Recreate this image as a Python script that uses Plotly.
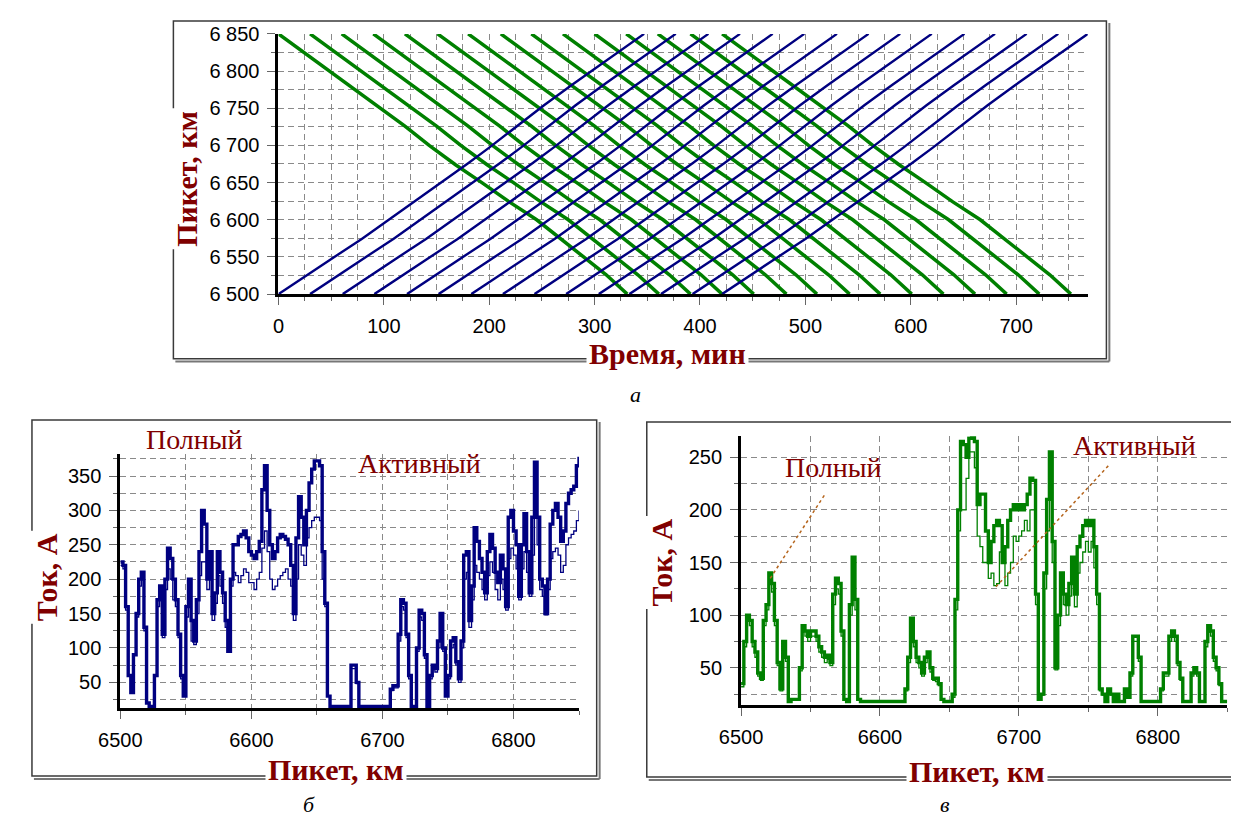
import plotly.graph_objects as go

# The page body has an 8px default margin, so the figure is drawn 8px smaller
# and every reference pixel position is shifted by -8.
OFF = 8
W, H = 1239 - OFF, 827 - OFF
def px(x): return (x - OFF) / W
def py(y): return 1 - (y - OFF) / H

# ---------------- chart "а": train schedule ----------------
green_start = [0, 30, 60, 90, 120, 151, 180, 211, 240, 270, 300, 330, 360, 391, 421]
green_prof_t = [0, 24, 48, 73, 97, 120, 143, 168, 193, 219, 245, 268, 290, 311, 331]
green_prof_km = [6850, 6825, 6801, 6774, 6750, 6726, 6700, 6674, 6650, 6624, 6600, 6574, 6550, 6526, 6500]
blue_start = [0, 30, 61, 91, 122, 152, 183, 213, 243, 273, 304, 333, 363, 393, 421]
blue_prof_t = [0, 27, 53, 79, 105, 133, 160, 180, 200, 226, 252, 278, 303, 326, 347]
blue_prof_km = [6500, 6526, 6550, 6574, 6600, 6628, 6655, 6676, 6697, 6726, 6754, 6781, 6806, 6829, 6850]
y_ticks_a = [6500, 6550, 6600, 6650, 6700, 6750, 6800, 6850]
y_labels_a = ["6 500", "6 550", "6 600", "6 650", "6 700", "6 750", "6 800", "6 850"]

# ---------------- chart "б": current, km 6500..6850 step 2 ----------------
km = list(range(6500, 6851, 2))
b_full = [
    225, 220, 160, 60, 35, 90, 150, 200, 210, 130,
    20, 15, 15, 60, 170, 190, 120, 200, 245, 230,
    200, 170, 120, 60, 30, 160, 200, 140, 110, 170,
    240, 300, 280, 200, 240, 150, 180, 240, 210, 180,
    140, 95, 200, 250, 250, 262, 265, 270, 260, 240,
    235, 230, 240, 255, 330, 365, 300, 250, 230, 240,
    260, 265, 262, 258, 250, 220, 150, 260, 320, 290,
    250, 300, 340, 360, 372, 372, 365, 240, 165, 30,
    15, 15, 15, 15, 15, 15, 15, 15, 75, 75,
    50, 15, 15, 15, 15, 15, 15, 15, 15, 15,
    15, 15, 15, 40, 45, 45, 120, 170, 165, 120,
    60, 15, 15, 100, 155, 150, 90, 15, 60, 75,
    70, 110, 150, 100, 30, 60, 110, 115, 80, 55,
    110, 235, 240, 140, 190, 275, 255, 230, 210, 180,
    240, 265, 245, 210, 195, 235, 215, 160, 290, 300,
    270, 250, 175, 250, 295, 240, 180, 290, 370, 290,
    200, 190, 150, 200, 280, 300, 310, 290, 255, 270,
    310, 325, 330, 335, 365, 378,
]
b_active = [
    220, 215, 155, 60, 35, 90, 145, 190, 200, 125,
    20, 15, 15, 60, 160, 180, 115, 185, 215, 200,
    170, 160, 115, 55, 30, 145, 180, 110, 105, 150,
    205, 225, 225, 185, 210, 140, 165, 205, 190, 165,
    130, 95, 190, 210, 205, 195, 205, 215, 210, 195,
    195, 185, 200, 210, 245, 270, 240, 200, 185, 190,
    200, 205, 210, 215, 200, 190, 140, 200, 250, 235,
    220, 260, 275, 285, 290, 290, 285, 200, 160, 30,
    15, 15, 15, 15, 15, 15, 15, 15, 70, 70,
    48, 15, 15, 15, 15, 15, 15, 15, 15, 15,
    15, 15, 15, 38, 42, 42, 110, 160, 155, 115,
    55, 15, 15, 95, 145, 140, 85, 15, 55, 70,
    65, 100, 140, 95, 30, 55, 100, 105, 75, 50,
    100, 200, 210, 130, 170, 220, 210, 200, 185, 170,
    205, 225, 210, 185, 170, 200, 185, 155, 230, 245,
    235, 215, 170, 215, 240, 210, 175, 235, 300, 250,
    185, 175, 148, 185, 230, 240, 245, 235, 210, 220,
    250, 260, 265, 270, 285, 300,
]

# ---------------- chart "в" ----------------
v_full = [
    35, 75, 100, 95, 75, 65, 45, 40, 95, 110,
    140, 130, 95, 55, 30, 75, 60, 18, 20, 20,
    20, 50, 90, 85, 80, 85, 85, 80, 70, 65,
    60, 62, 55, 120, 135, 130, 85, 20, 18, 110,
    155, 115, 20, 18, 18, 18, 18, 18, 18, 18,
    18, 18, 18, 18, 18, 18, 18, 18, 18, 30,
    60, 97, 75, 60, 55, 45, 60, 65, 50, 40,
    40, 35, 20, 18, 18, 18, 25, 115, 200, 265,
    262, 250, 268, 270, 265, 205, 215, 215, 180, 150,
    170, 185, 190, 185, 150, 165, 190, 200, 205, 200,
    205, 200, 205, 215, 230, 228, 120, 20, 25, 140,
    210, 255, 170, 50, 100, 140, 120, 110, 130, 155,
    120, 165, 175, 185, 190, 185, 190, 165, 120, 30,
    25, 18, 30, 25, 18, 25, 18, 18, 30, 22,
    45, 80, 80, 60, 18, 18, 18, 18, 18, 18,
    18, 30, 45, 45, 80, 85, 80, 55, 40, 18,
    18, 18, 45, 50, 45, 18, 18, 75, 90, 85,
    60, 50, 35, 18, 18, 18,
]
v_active = [
    32, 70, 95, 90, 70, 60, 42, 38, 90, 105,
    130, 122, 90, 52, 28, 70, 56, 18, 19, 19,
    19, 47, 85, 80, 75, 80, 80, 75, 65, 60,
    55, 58, 52, 110, 125, 120, 80, 19, 18, 100,
    140, 105, 19, 18, 18, 18, 18, 18, 18, 18,
    18, 18, 18, 18, 18, 18, 18, 18, 18, 28,
    55, 90, 70, 55, 50, 42, 55, 60, 46, 38,
    37, 33, 19, 18, 18, 18, 22, 105, 180, 200,
    200, 230, 255, 255, 240, 175, 165, 150, 150, 135,
    140, 128, 130, 160, 150, 128, 140, 150, 175, 170,
    175, 180, 190, 180, 200, 200, 110, 20, 24, 125,
    180, 215, 150, 48, 90, 128, 110, 100, 118, 140,
    108, 140, 150, 160, 170, 160, 170, 145, 110, 28,
    24, 18, 28, 24, 18, 24, 18, 18, 28, 21,
    42, 75, 75, 56, 18, 18, 18, 18, 18, 18,
    18, 28, 42, 42, 75, 80, 75, 52, 38, 18,
    18, 18, 42, 47, 42, 18, 18, 70, 84, 80,
    56, 47, 33, 18, 18, 18,
]
# pointer lines (data coords) for the labels on chart в
ptr_full = ([6521, 6561], [135, 216])
ptr_active = ([6683.5, 6764.5], [127, 242])

NAVY = "#000080"
GREEN = "#008000"
TXT = "#800000"
GRID = "#8a8a8a"
SANS = "Liberation Sans"
SERIF = "Liberation Serif"

fig = go.Figure()

for s in green_start:
    fig.add_trace(go.Scatter(x=[s + t for t in green_prof_t], y=green_prof_km, mode="lines",
                             line=dict(color=GREEN, width=3.5), xaxis="x", yaxis="y", hoverinfo="skip"))
for s in blue_start:
    fig.add_trace(go.Scatter(x=[s + t for t in blue_prof_t], y=blue_prof_km, mode="lines",
                             line=dict(color=NAVY, width=2.4), xaxis="x", yaxis="y", hoverinfo="skip"))

fig.add_trace(go.Scatter(x=km, y=b_full, mode="lines", line=dict(color=NAVY, width=3.4, shape="hv"),
                         xaxis="x2", yaxis="y2"))
fig.add_trace(go.Scatter(x=km, y=b_active, mode="lines", line=dict(color=NAVY, width=1.3, shape="hv"),
                         xaxis="x2", yaxis="y2"))
fig.add_trace(go.Scatter(x=km, y=v_full, mode="lines", line=dict(color=GREEN, width=3.4, shape="hv"),
                         xaxis="x3", yaxis="y3"))
fig.add_trace(go.Scatter(x=km, y=v_active, mode="lines", line=dict(color=GREEN, width=1.3, shape="hv"),
                         xaxis="x3", yaxis="y3"))
for xs, ys in (ptr_full, ptr_active):
    fig.add_trace(go.Scatter(x=xs, y=ys, mode="lines", line=dict(color="#B5651D", width=1.5, dash="dot"),
                             xaxis="x3", yaxis="y3"))

tickfont = dict(family=SANS, size=20, color="black")

def axis(domain, rng, anchor, **kw):
    d = dict(domain=domain, range=rng, anchor=anchor, showline=True, linewidth=3, linecolor="black",
             ticks="outside", ticklen=8, tickwidth=1, tickcolor="#666", showgrid=True,
             gridcolor=GRID, griddash="6px,4px", gridwidth=1, zeroline=False,
             tickfont=tickfont, fixedrange=True, ticklabelstandoff=4)
    d.update(kw)
    return d

def minor(t0, dt):
    return dict(tickmode="linear", tick0=t0, dtick=dt, showgrid=True, gridcolor=GRID,
                griddash="6px,4px", gridwidth=1, ticks="outside", ticklen=4, tickcolor="#666")

fig.update_layout(
    width=W, height=H, margin=dict(l=0, r=0, t=0, b=0),
    paper_bgcolor="white", plot_bgcolor="white", showlegend=False,
    xaxis=axis([px(261), px(1085)], [0, 768], "y", tick0=0, dtick=100, minor=minor(0, 25)),
    yaxis=axis([py(290.7), py(23.3)], [6500, 6850], "x", tickmode="array",
               tickvals=y_ticks_a, ticktext=y_labels_a, minor=minor(6500, 25)),
    xaxis2=axis([px(100), px(567)], [6500, 6850], "y2", tick0=6500, dtick=100, minor=minor(6500, 50)),
    yaxis2=axis([py(716), py(455)], [12.7, 382], "x2", tick0=0, dtick=50, minor=minor(0, 25)),
    xaxis3=axis([px(732), px(1227)], [6500, 6850], "y3", tick0=6500, dtick=100, minor=minor(6500, 50)),
    yaxis3=axis([py(713), py(436.7)], [14.6, 270], "x3", tick0=0, dtick=50, minor=minor(0, 25)),
)

shapes = []
def frame(x0, y0, x1, y1):
    shapes.append(dict(type="rect", xref="paper", yref="paper", x0=px(x0), y0=py(y0), x1=px(x1), y1=py(y1),
                       line=dict(color="#3a3a3a", width=1.5)))
    shapes.append(dict(type="line", xref="paper", yref="paper", x0=px(x0 + 2), y0=py(y1 + 3),
                       x1=px(x1 + 3), y1=py(y1 + 3), line=dict(color="#777", width=2)))
    shapes.append(dict(type="line", xref="paper", yref="paper", x0=px(x1 + 3), y0=py(y0 + 2),
                       x1=px(x1 + 3), y1=py(y1 + 3), line=dict(color="#777", width=2)))
frame(154, 10, 1104, 357)
frame(10, 420, 585, 786)
frame(636, 422, 1234, 787)
fig.update_layout(shapes=shapes)

def ann(text, x, y, size, angle=0, bg=None, italic=False, family=SERIF):
    a = dict(text=text, x=px(x), y=py(y), xref="paper", yref="paper", showarrow=False,
             xanchor="center", yanchor="middle", textangle=angle,
             font=dict(family=family, size=size, color=TXT if not italic else "black",
                       style="italic" if italic else "normal"))
    if bg:
        a["bgcolor"] = bg
        a["borderpad"] = 2
    return a

anns = [
    ann("<b>Пикет, км</b>", 167, 172, 30, -90, "white"),
    ann("<b>Время, мин</b>", 657, 352, 30, 0, "white"),
    ann("а", 625, 394, 22, italic=True),
    ann("<b>Ток, А</b>", 25, 582, 30, -90, "white"),
    ann("<b>Пикет, км</b>", 320, 779, 30, 0, "white"),
    ann("б", 292, 815, 22, italic=True),
    ann("<b>Ток, А</b>", 651, 567, 30, -90, "white"),
    ann("<b>Пикет, км</b>", 972, 781, 30, 0, "white"),
    ann("в", 940, 815, 22, italic=True),
    ann("Полный", 176, 440, 28),
    ann("Активный", 405, 465, 28),
    ann("Полный", 826, 469, 28),
    ann("Активный", 1133, 446, 28),
]
fig.update_layout(annotations=anns)

fig.write_html("out.html")
